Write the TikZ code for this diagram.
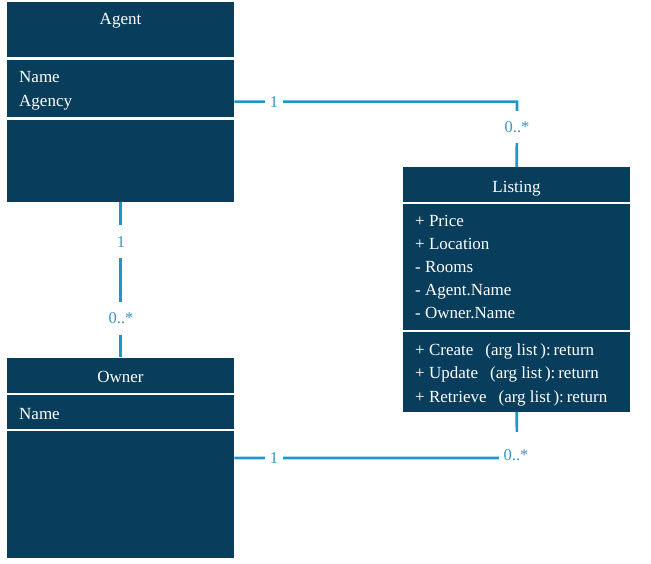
\documentclass[tikz,border=0pt]{standalone}
\usepackage{fontspec}
\setmainfont{Liberation Serif}
\definecolor{navy}{RGB}{9,61,92}
\definecolor{umlblue}{RGB}{30,150,205}
\definecolor{multblue}{RGB}{55,150,200}
\tikzset{
  sec/.style={fill=navy, draw=none, inner sep=0pt, anchor=north west, minimum width=227pt},
  txt/.style={text=white, font=\fontsize{17}{20}\selectfont, inner sep=0pt, anchor=base west},
  ttl/.style={text=white, font=\fontsize{17}{20}\selectfont, inner sep=0pt, anchor=base},
  conn/.style={draw=umlblue, line width=2.6pt},
  mult/.style={text=multblue, font=\fontsize{16.5}{19}\selectfont, fill=white, inner sep=0pt}
}
\begin{document}
\begin{tikzpicture}[x=1pt,y=-1pt]
\useasboundingbox (0,0) rectangle (651,564);
% Agent
\node[sec, minimum height=55.5pt] (agentT) at (7,1.5) {};
\node[sec, minimum height=57.5pt] (agentA) at (7,59.5) {};
\node[sec, minimum height=82.5pt] (agentM) at (7,119.5) {};
\node[ttl] (agentTitle) at (120.5,25) {Agent};
\node[txt] (agentName) at (19,82.5) {Name};
\node[txt] (agentAgency) at (19,107) {Agency};
% Listing
\node[sec, minimum height=34.5pt] (listT) at (403,167) {};
\node[sec, minimum height=126pt] (listA) at (403,203.5) {};
\node[sec, minimum height=79.5pt] (listM) at (403,332) {};
\node[ttl] (listTitle) at (516.5,192.5) {Listing};
\node[txt] (l1) at (415,226.7) {+ Price};
\node[txt] (l2) at (415,249.5) {+ Location};
\node[txt] (l3) at (415,272.7) {- Rooms};
\node[txt] (l4) at (415,295.5) {- Agent.Name};
\node[txt] (l5) at (415,319) {- Owner.Name};
\node[txt] (m1) at (415,355) {+ Create\hspace{12pt}(arg list\,):\,return};
\node[txt] (m2) at (415,378.5) {+ Update\hspace{12pt}(arg list\,):\,return};
\node[txt] (m3) at (415,402) {+ Retrieve\hspace{12pt}(arg list\,):\,return};
% Owner
\node[sec, minimum height=35pt] (ownT) at (7,357.3) {};
\node[sec, minimum height=34.4pt] (ownA) at (7,394.3) {};
\node[sec, minimum height=127pt] (ownM) at (7,431) {};
\node[ttl] (ownTitle) at (120.5,382.3) {Owner};
\node[txt] (ownName) at (19,419) {Name};
% connectors
\coordinate (c1) at (517,101.7);
\coordinate (c2) at (517,458);
\draw[conn] (agentA.east |- c1) -- (c1) -- (listT.north);
\draw[conn] (agentM.south) -- (ownT.north);
\draw[conn] (ownM.east |- c2) -- (c2) -- (listM.south);
% multiplicities
\node[mult, minimum width=18pt, minimum height=14pt] (k1) at (274,101.7) {1};
\node[mult, minimum width=30pt, minimum height=32pt] (k2) at (517,127) {0..*};
\node[mult, minimum width=14pt, minimum height=33pt] (k3) at (121,242) {1};
\node[mult, minimum width=30pt, minimum height=33pt] (k4) at (121,318.5) {0..*};
\node[mult, minimum width=18pt, minimum height=14pt] (k5) at (274,458) {1};
\node[mult, minimum width=34pt, minimum height=46pt] (k6) at (516,455) {0..*};
\end{tikzpicture}
\end{document}
